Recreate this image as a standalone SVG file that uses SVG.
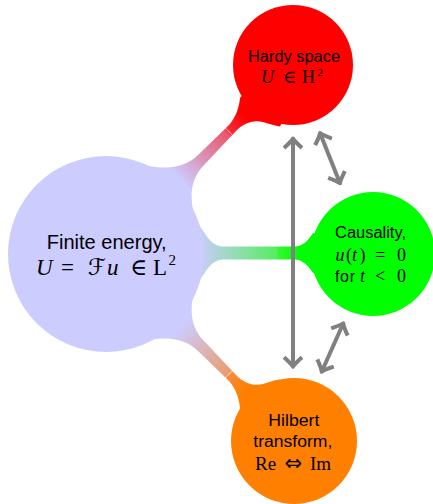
<svg xmlns="http://www.w3.org/2000/svg" width="433" height="504" viewBox="0 0 433 504">
<style>
.sans { font-family: "Liberation Sans", Arial, sans-serif; fill: #000; }
.m { font-family: "Liberation Serif", "DejaVu Serif", serif; fill: #000; }
.sym { font-family: "DejaVu Sans", "Liberation Serif", sans-serif; }
.it { font-style: italic; }
.arrow { fill: none; stroke: #808080; stroke-width: 4; marker-start: url(#ah); marker-end: url(#ah); }
.tick { stroke: #ffffff; stroke-width: 0.8; opacity: 0.85; }
</style>
<defs>
<marker id="ah" markerUnits="userSpaceOnUse" markerWidth="24" markerHeight="24" viewBox="-12 -12 24 24" refX="0" refY="0" orient="auto-start-reverse" overflow="visible">
<path d="M -9.5,-9 C -5,-4 -2,-1 0,0 C -2,1 -5,4 -9.5,9" fill="none" stroke="#808080" stroke-width="4" stroke-linejoin="round"/>
</marker>
<linearGradient id="gRed" gradientUnits="userSpaceOnUse" x1="179.8" y1="179.4" x2="243.1" y2="115.4">
<stop offset="0" stop-color="#ccccff"/>
<stop offset="0.74" stop-color="#eb5468"/>
<stop offset="0.75" stop-color="#f5303f"/>
<stop offset="1" stop-color="#ff0000"/>
</linearGradient>
<linearGradient id="gGreen" gradientUnits="userSpaceOnUse" x1="198" y1="253" x2="300" y2="253">
<stop offset="0" stop-color="#ccccff"/>
<stop offset="0.77" stop-color="#55ee60"/>
<stop offset="0.79" stop-color="#33f833"/>
<stop offset="1" stop-color="#00ff00"/>
</linearGradient>
<linearGradient id="gOrange" gradientUnits="userSpaceOnUse" x1="180.4" y1="328" x2="244.3" y2="391.5">
<stop offset="0" stop-color="#ccccff"/>
<stop offset="0.74" stop-color="#eb9c6a"/>
<stop offset="0.75" stop-color="#f58a40"/>
<stop offset="1" stop-color="#ff8000"/>
</linearGradient>
</defs>

<g id="connectors">
<path fill="url(#gRed)" d="M 186,226 C 190,214 191.5,208 191.5,198 C 191.5,184 195,174 205,164 L 236,131 C 244,123 253,119.5 263,122 C 270,124 275,126 280,126.4 L 300,86 L 250,86 L 240,98 C 239,108 236,117 229,125 L 198,155 C 190,163 180,167 165,167.5 C 155,167.5 148,166 140,164 L 150,206 Z"/>
<path fill="url(#gGreen)" d="M 183,196 L 191.5,196 C 191.5,210 196,222 204,232 C 209,240 214,246.5 224,246.5 L 294,246.5 C 302,246.5 307,242 313,233 L 340,240 L 340,268 L 313,273 C 307,264 302,259.5 294,259.5 L 224,259.5 C 214,259.5 209,266 204,274 C 196,284 191.5,296 191.5,310 L 183,310 Z"/>
<path fill="url(#gOrange)" d="M 186,280 C 190,292 191.5,298 191.5,308 C 191.5,322 195,332 205,342 L 236,375 C 244,383 253,386.5 263,384 C 270,382 275,380 280,379.6 L 300,420 L 250,420 L 240,408 C 239,398 236,389 229,381 L 198,351 C 190,343 180,339 165,338.5 C 155,338.5 148,340 140,342 L 150,300 Z"/>
<line class="tick" x1="224.4" y1="127" x2="232" y2="134.6"/>
<line class="tick" x1="224.1" y1="379.2" x2="231.9" y2="371.4"/>
</g>

<g id="node-finite">
<circle cx="106" cy="254" r="98" fill="#ccccff"/>
<text class="sans" x="106.7" y="249" font-size="20" text-anchor="middle" textLength="120" lengthAdjust="spacingAndGlyphs">Finite energy,</text>
<text class="m" y="275" font-size="23"><tspan class="it" x="36">U</tspan><tspan x="61">=</tspan><tspan class="sym" x="88" font-size="23">ℱ</tspan><tspan class="it" x="107">u</tspan><tspan x="130">∈</tspan><tspan x="153">L</tspan><tspan x="168.5" font-size="15" dy="-10">2</tspan></text>
</g>

<g id="node-hardy">
<circle cx="293" cy="65" r="60" fill="#ff0000"/>
<text class="sans" x="294" y="62" font-size="16" text-anchor="middle" textLength="92" lengthAdjust="spacingAndGlyphs">Hardy space</text>
<text class="m" y="83" font-size="18"><tspan class="it" x="261">U</tspan><tspan x="283">∈</tspan><tspan x="302">H</tspan><tspan x="317.5" font-size="11" dy="-7">2</tspan></text>
</g>

<g id="node-causality">
<circle cx="373" cy="254" r="62" fill="#00ff00"/>
<text class="sans" x="370.5" y="238" font-size="16" text-anchor="middle" textLength="71" lengthAdjust="spacingAndGlyphs">Causality,</text>
<text class="m" y="260.5" font-size="18"><tspan class="it" x="335.5">u</tspan><tspan x="346">(</tspan><tspan class="it" x="352">t</tspan><tspan x="359.5">)</tspan><tspan x="375">=</tspan><tspan x="397">0</tspan></text>
<text y="282" font-size="16"><tspan class="sans" x="335" textLength="20">for</tspan><tspan class="m it" x="360" font-size="18">t</tspan><tspan class="m" x="375" font-size="18">&lt;</tspan><tspan class="m" x="397" font-size="18">0</tspan></text>
</g>

<g id="node-hilbert">
<circle cx="294" cy="441" r="63" fill="#ff8000"/>
<text class="sans" x="293.8" y="426" font-size="16" text-anchor="middle" textLength="51" lengthAdjust="spacingAndGlyphs">Hilbert</text>
<text class="sans" x="292.8" y="447" font-size="16" text-anchor="middle" textLength="79" lengthAdjust="spacingAndGlyphs">transform,</text>
<text class="m" y="470" font-size="19"><tspan x="255">Re</tspan><tspan class="sym" x="284.5" font-size="21">⇔</tspan><tspan x="310">Im</tspan></text>
</g>

<g id="arrows">
<path class="arrow" d="M 293,138.5 L 293,366.7"/>
<path class="arrow" d="M 320,133 L 340,183.3"/>
<path class="arrow" d="M 343.3,323.3 L 321.7,371.7"/>
</g>
</svg>
